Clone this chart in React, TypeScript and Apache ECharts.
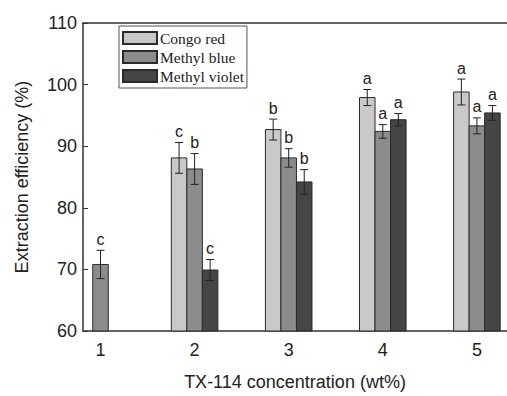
import React, { useEffect, useRef } from "react";
import * as echarts from "echarts";

const categories = [1, 2, 3, 4, 5];
const seriesNames = ["Congo red", "Methyl blue", "Methyl violet"];
const congoRed: (number | null)[] = [null, 88.1, 92.7, 97.9, 98.8];
const congoRedErr: (number | null)[] = [null, 2.5, 1.7, 1.3, 2.1];
const congoRedLetters = ["", "c", "b", "a", "a"];
const methylBlue: (number | null)[] = [70.8, 86.3, 88.1, 92.4, 93.3];
const methylBlueErr: (number | null)[] = [2.3, 2.5, 1.5, 1.1, 1.3];
const methylBlueLetters = ["c", "b", "b", "a", "a"];
const methylViolet: (number | null)[] = [null, 69.9, 84.2, 94.3, 95.4];
const methylVioletErr: (number | null)[] = [null, 1.7, 2.0, 1.0, 1.2];
const methylVioletLetters = ["", "c", "b", "a", "a"];
const yTicks = [60, 70, 80, 90, 100, 110];

const colors = ["#c9c9c9", "#8c8c8c", "#454545"];
const BW = 0.165;
const Y_MIN = 60;

function buildSeries(
  name: string,
  vals: (number | null)[],
  errs: (number | null)[],
  letters: string[],
  offset: number,
  color: string
) {
  const data: number[][] = [];
  categories.forEach((c, i) => {
    const v = vals[i];
    if (v != null) data.push([c, v, errs[i] ?? 0, i]);
  });
  return {
    type: "custom",
    name,
    itemStyle: { color, borderColor: "#2a2a2a", borderWidth: 1 },
    encode: { x: 0, y: 1 },
    data,
    renderItem: (params: any, api: any) => {
      const x = api.value(0) + offset * BW;
      const v = api.value(1);
      const e = api.value(2);
      const idx = api.value(3);
      const tl = api.coord([x - BW / 2, v]);
      const br = api.coord([x + BW / 2, Y_MIN]);
      const top = api.coord([x, v + e]);
      const bot = api.coord([x, v - e]);
      const cap = 4;
      return {
        type: "group",
        children: [
          {
            type: "rect",
            shape: { x: tl[0], y: tl[1], width: br[0] - tl[0], height: br[1] - tl[1] },
            style: { fill: color, stroke: "#2a2a2a", lineWidth: 1 },
          },
          {
            type: "line",
            shape: { x1: top[0], y1: top[1], x2: bot[0], y2: bot[1] },
            style: { stroke: "#222", lineWidth: 1 },
          },
          {
            type: "line",
            shape: { x1: top[0] - cap, y1: top[1], x2: top[0] + cap, y2: top[1] },
            style: { stroke: "#222", lineWidth: 1 },
          },
          {
            type: "line",
            shape: { x1: bot[0] - cap, y1: bot[1], x2: bot[0] + cap, y2: bot[1] },
            style: { stroke: "#222", lineWidth: 1 },
          },
          {
            type: "text",
            style: {
              text: letters[idx],
              x: top[0],
              y: top[1] - 3,
              align: "center",
              verticalAlign: "bottom",
              fill: "#222",
              font: "16px 'Liberation Sans', Arial, sans-serif",
            },
          },
        ],
      };
    },
  };
}

export default function App() {
  const ref = useRef<HTMLDivElement>(null);
  useEffect(() => {
    if (!ref.current) return;
    const chart = echarts.init(ref.current, undefined, { renderer: "svg" });
    const font = "'Liberation Sans', Arial, sans-serif";
    chart.setOption({
      animation: false,
      backgroundColor: "#fff",
      grid: { left: 83, top: 23, right: 0, bottom: 55 },
      legend: {
        show: true,
        orient: "vertical",
        left: 119,
        top: 26,
        icon: "rect",
        itemWidth: 34,
        itemHeight: 12,
        itemGap: 3,
        padding: [4, 3, 4, 3],
        borderColor: "#555",
        borderWidth: 1,
        data: seriesNames,
        textStyle: {
          fontFamily: "'Liberation Serif', 'Times New Roman', serif",
          fontSize: 15.5,
          lineHeight: 16,
          color: "#222",
          padding: [0, 0, 0, -2],
        },
        selectedMode: false,
      },
      xAxis: [
        {
          type: "value",
          min: 0.814,
          max: 5.32,
          name: "TX-114 concentration (wt%)",
          nameLocation: "middle",
          nameGap: 42,
          nameTextStyle: { fontFamily: font, fontSize: 18, color: "#222" },
          axisLine: { show: true, lineStyle: { color: "#333", width: 1.5 } },
          axisTick: { show: true, inside: true, length: 4, customValues: categories, lineStyle: { color: "#333" } },
          axisLabel: { customValues: categories, fontFamily: font, fontSize: 18, color: "#222", margin: 10 },
          splitLine: { show: false },
        },
        {
          type: "value",
          position: "top",
          min: 0.814,
          max: 5.32,
          axisLine: { show: true, onZero: false, lineStyle: { color: "#333", width: 1.5 } },
          axisTick: { show: false },
          axisLabel: { show: false },
          splitLine: { show: false },
        },
      ],
      yAxis: {
        type: "value",
        min: 60,
        max: 110,
        interval: 10,
        name: "Extraction efficiency (%)",
        nameLocation: "middle",
        nameGap: 52,
        nameTextStyle: { fontFamily: font, fontSize: 18, color: "#222" },
        axisLine: { show: true, lineStyle: { color: "#333", width: 1.5 } },
        axisTick: { show: true, inside: true, length: 5, lineStyle: { color: "#333" } },
        axisLabel: { fontFamily: font, fontSize: 18, color: "#222", margin: 6, customValues: yTicks },
        splitLine: { show: false },
      },
      series: [
        buildSeries(seriesNames[0], congoRed, congoRedErr, congoRedLetters, -1, colors[0]),
        buildSeries(seriesNames[1], methylBlue, methylBlueErr, methylBlueLetters, 0, colors[1]),
        buildSeries(seriesNames[2], methylViolet, methylVioletErr, methylVioletLetters, 1, colors[2]),
      ],
    });
    return () => chart.dispose();
  }, []);
  return <div ref={ref} style={{ width: 507, height: 396, position: "absolute", left: 0, top: 0 }} />;
}
